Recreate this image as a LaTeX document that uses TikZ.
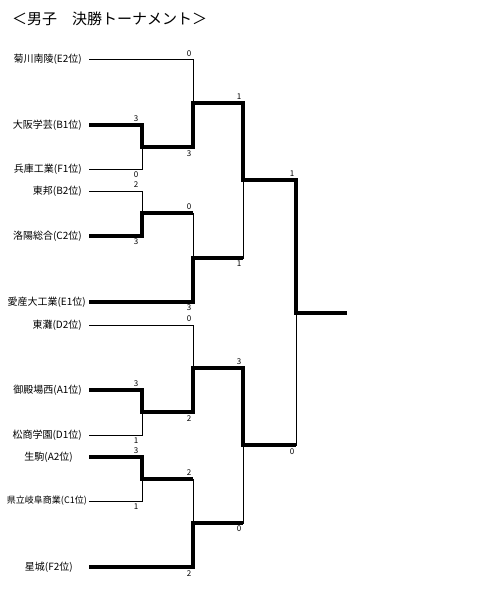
\documentclass[tikz,border=0pt]{standalone}
\usepackage{fontspec}
\setmainfont{Noto Sans CJK JP}
\usetikzlibrary{positioning}

\begin{document}
\begin{tikzpicture}[x=1pt, y=-1pt,
  every node/.style={inner sep=0pt},
  team/.style={anchor=east, font=\fontsize{10}{11}\selectfont},
  score/.style={font=\fontsize{8}{9}\selectfont},
  lost/.style={line width=0.8pt},
  won/.style={line width=4pt}]
  \useasboundingbox (0,0) rectangle (487,594);
  \node[anchor=west, font=\fontsize{15}{16}\selectfont] (title) at (12,19) {＜男子　決勝トーナメント＞};
  % teams and line starts
  \foreach \nm/\x/\y/\t in {1/82/59/菊川南陵(E2位), 2/82/125/大阪学芸(B1位), 3/82/169/兵庫工業(F1位),
      4/82/191/東邦(B2位), 5/82/236/洛陽総合(C2位), 6/86/302/愛産大工業(E1位),
      7/82/325/東灘(D2位), 8/82/390/御殿場西(A1位), 9/82/435/松商学園(D1位),
      10/73/457/生駒(A2位), 12/73/567/星城(F2位)} {
    \node[team] (n\nm) at (\x,\y) {\t};
    \coordinate (e\nm) at (89,\y);
  }
  \node[team, font=\fontsize{9}{10}\selectfont] (n11) at (87,501) {県立岐阜商業(C1位)};
  \coordinate (e11) at (89,501);
  % junctions
  \coordinate (m1) at (142,147);
  \coordinate (m2) at (142,213);
  \coordinate (m3) at (142,412);
  \coordinate (m4) at (142,479);
  \coordinate (q1) at (193,103);
  \coordinate (q2) at (193,258);
  \coordinate (q3) at (193,368);
  \coordinate (q4) at (193,523);
  \coordinate (s1) at (243,180);
  \coordinate (s2) at (243,445);
  \coordinate (f) at (296,313);
  \coordinate (champ) at (347,313);
  % bracket
  \draw[lost] (e2) -| (m1) (e3) -| (m1) (e4) -| (m2) (e5) -| (m2)
    (e8) -| (m3) (e9) -| (m3) (e10) -| (m4) (e11) -| (m4);
  \draw[lost] (e1) -| (q1) (m1) -| (q1) (m2) -| (q2) (e6) -| (q2)
    (e7) -| (q3) (m3) -| (q3) (m4) -| (q4) (e12) -| (q4);
  \draw[lost] (q1) -| (s1) (q2) -| (s1) (q3) -| (s2) (q4) -| (s2);
  \draw[lost] (s1) -| (f) (s2) -| (f);
  % winners
  \draw[won] (e2) -| (m1) -| (q1) -| (s1) -| (f) -- (champ);
  \draw[won] (e5) -| (m2) -- (m2 -| q2);
  \draw[won] (e6) -| (q2) -- (q2 -| s1);
  \draw[won] (e8) -| (m3) -| (q3) -| (s2) -- (s2 -| f);
  \draw[won] (e10) -| (m4) -- (m4 -| q4);
  \draw[won] (e12) -| (q4) -- (q4 -| s2);
  % scores
  \foreach \nm/\x/\y/\s in {1/189/54/0, 2/136/119/3, 3/189/154/3, 4/136/175/0,
      5/136/185/2, 6/189/207/0, 7/136/242/3, 8/189/308/3,
      9/239/97/1, 10/239/264/1, 11/292/174/1, 12/292/452/0,
      13/189/319/0, 14/136/384/3, 15/189/419/2, 16/136/441/1,
      17/136/451/3, 18/189/473/2, 19/136/507/1, 20/189/574/2,
      21/239/362/3, 22/239/529/0} {
    \node[score] (sc\nm) at (\x,\y) {\s};
  }
\end{tikzpicture}
\end{document}
